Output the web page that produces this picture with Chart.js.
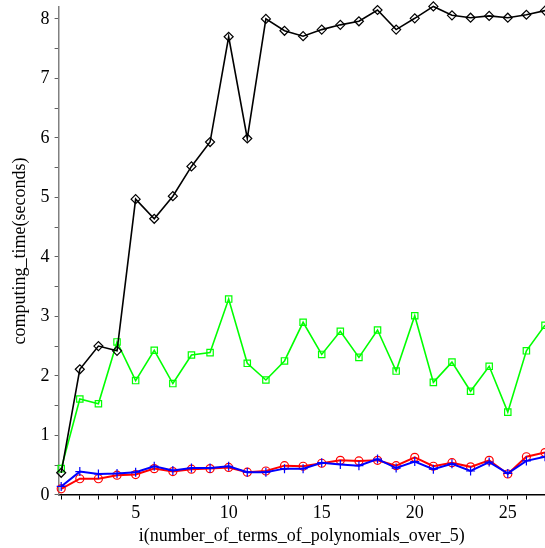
<!DOCTYPE html>
<html>
<head>
<meta charset="utf-8">
<script src="https://cdn.jsdelivr.net/npm/chart.js@4/dist/chart.umd.min.js"></script>
<style>
  html, body { margin: 0; padding: 0; background: #fff; }
  #wrap { width: 545px; height: 548px; }
</style>
</head>
<body>
<div id="wrap"><canvas id="timeChart" width="545" height="548"></canvas></div>
<script>
const iValues = [1, 2, 3, 4, 5, 6, 7, 8, 9, 10, 11, 12, 13, 14, 15, 16, 17, 18, 19, 20, 21, 22, 23, 24, 25, 26, 27];
const blackTimes = [0.37, 2.11, 2.50, 2.42, 4.97, 4.64, 5.02, 5.52, 5.93, 7.70, 5.99, 8.00, 7.80, 7.71, 7.82, 7.90, 7.96, 8.15, 7.82, 8.01, 8.21, 8.06, 8.02, 8.05, 8.02, 8.07, 8.14];
const greenTimes = [0.44, 1.61, 1.53, 2.57, 1.92, 2.43, 1.87, 2.35, 2.39, 3.29, 2.21, 1.93, 2.25, 2.90, 2.36, 2.75, 2.31, 2.77, 2.08, 3.01, 1.89, 2.23, 1.74, 2.16, 1.39, 2.42, 2.85];
const redTimes = [0.10, 0.27, 0.27, 0.33, 0.34, 0.44, 0.39, 0.43, 0.44, 0.46, 0.38, 0.40, 0.49, 0.48, 0.53, 0.58, 0.57, 0.58, 0.49, 0.63, 0.48, 0.54, 0.47, 0.58, 0.35, 0.64, 0.71];
const blueTimes = [0.14, 0.39, 0.35, 0.36, 0.38, 0.48, 0.41, 0.45, 0.45, 0.48, 0.38, 0.38, 0.44, 0.44, 0.54, 0.51, 0.49, 0.60, 0.45, 0.56, 0.43, 0.52, 0.40, 0.55, 0.36, 0.57, 0.64];

const xTicks = [1, 2, 3, 4, 5, 6, 7, 8, 9, 10, 11, 12, 13, 14, 15, 16, 17, 18, 19, 20, 21, 22, 23, 24, 25, 26, 27];
const xLabelled = [5, 10, 15, 20, 25];
const yTicks = [0, 0.5, 1, 1.5, 2, 2.5, 3, 3.5, 4, 4.5, 5, 5.5, 6, 6.5, 7, 7.5, 8];
const yLabelled = [0, 1, 2, 3, 4, 5, 6, 7, 8];
const xMin = 0.86, xMax = 27;
const yMin = 0, yMax = 8.2;

const serif = "'Liberation Serif', 'DejaVu Serif', serif";

function series(values, color, style, radius, width) {
  return {
    data: iValues.map((x, k) => ({ x, y: values[k] })),
    borderColor: color,
    borderWidth: width,
    pointStyle: style,
    pointRadius: radius,
    pointBorderColor: color,
    pointBackgroundColor: "rgba(0,0,0,0)",
    pointBorderWidth: 1.2,
    tension: 0,
    clip: false
  };
}

new Chart(document.getElementById("timeChart"), {
  type: "line",
  data: {
    datasets: [
      series(blackTimes, "#000000", "rectRot", 4.5, 1.6),
      series(greenTimes, "#00ff00", "rect", 4.5, 1.6),
      series(blueTimes, "#0000ff", "cross", 4.5, 2),
      series(redTimes, "#ff0000", "circle", 4, 2)
    ]
  },
  options: {
    responsive: false,
    animation: false,
    // autoPadding off so the last points sit right on the canvas edge like the original
    layout: { autoPadding: false, padding: { left: 5, right: 0, top: 7, bottom: 1 } },
    plugins: { legend: { display: false }, tooltip: { enabled: false } },
    scales: {
      x: {
        type: "linear",
        min: xMin,
        max: xMax,
        afterBuildTicks: (axis) => { axis.ticks = xTicks.map((v) => ({ value: v })); },
        border: { color: "#000000", width: 1.5 },
        // long tick slot with a dash so only 4px show; keeps label gap without side padding
        grid: { drawOnChartArea: false, tickLength: 8, tickBorderDash: [4, 40], tickColor: "#000000", tickWidth: 1 },
        ticks: {
          color: "#000000",
          padding: 0,
          maxRotation: 0,
          autoSkip: false,
          font: { family: serif, size: 18 },
          callback: (v) => (xLabelled.includes(v) ? String(v) : "")
        },
        title: {
          display: true,
          text: "i(number_of_terms_of_polynomials_over_5)",
          color: "#000000",
          font: { family: serif, size: 18 },
          padding: { top: 1, bottom: 0 }
        }
      },
      y: {
        type: "linear",
        min: yMin,
        max: yMax,
        afterBuildTicks: (axis) => {
          axis.ticks = yTicks.map((v) => ({ value: v })).concat([{ value: yMax }]);
        },
        border: { color: "#808080", width: 1.5 },
        grid: {
          drawOnChartArea: false,
          tickLength: 4,
          tickWidth: 1,
          tickColor: (ctx) => (ctx.tick && ctx.tick.value > 8 ? "rgba(0,0,0,0)" : "#606060")
        },
        ticks: {
          color: "#000000",
          padding: 5,
          autoSkip: false,
          font: (ctx) => (ctx.tick && ctx.tick.value > 8 ? { family: serif, size: 1 } : { family: serif, size: 18 }),
          callback: (v) => (yLabelled.includes(v) ? String(v) : "")
        },
        title: {
          display: true,
          text: "computing_time(seconds)",
          color: "#000000",
          font: { family: serif, size: 18 },
          padding: { top: 4, bottom: 5 }
        }
      }
    }
  }
});
</script>
</body>
</html>
